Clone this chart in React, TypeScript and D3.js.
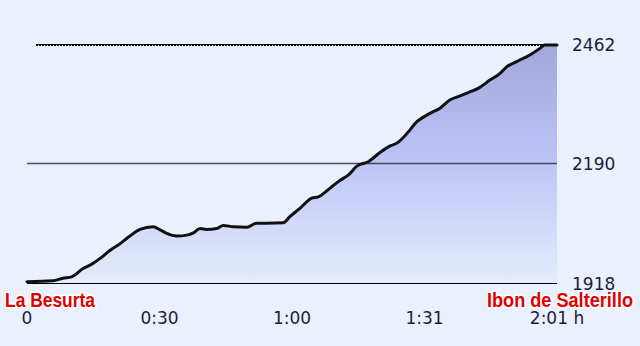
import React from "react";
import * as d3 from "d3";

const timesMin = [0, 5.9, 8.2, 10.2, 12.8, 14.8, 16.7, 18.9, 21.2, 23.5, 25.8, 28.8, 30.4, 31.9, 34.2, 36.5, 38.0, 39.5, 41.0, 43.3, 44.8, 47.1, 50.2, 52.4, 54.7, 58.5, 60.0, 62.3, 65.0, 66.5, 69.2, 71.5, 73.4, 75.3, 77.9, 80.6, 82.9, 84.4, 87.4, 88.6, 92.0, 94.3, 96.6, 98.9, 101.1, 103.0, 105.7, 108.0, 109.5, 111.8, 114.8, 117.1, 118.2, 121];
const elevations = [1921, 1923, 1929, 1932, 1951, 1961, 1974, 1992, 2007, 2025, 2040, 2046, 2039, 2031, 2025, 2027, 2032, 2042, 2040, 2042, 2049, 2046, 2045, 2054, 2054, 2055, 2069, 2088, 2111, 2114, 2134, 2152, 2164, 2184, 2194, 2215, 2230, 2236, 2266, 2281, 2304, 2316, 2335, 2344, 2353, 2361, 2380, 2395, 2410, 2422, 2437, 2452, 2460, 2460];
const yTicks = [1918, 2190, 2462];
const xTickValues = [0, 30.25, 60.5, 90.75, 121];
const xTickLabels = ["0", "0:30", "1:00", "1:31", "2:01 h"];
const startName = "La Besurta";
const endName = "Ibon de Salterillo";

export default function App() {
  const W = 640, H = 346;
  const x = d3.scaleLinear().domain([0, 121]).range([27, 557]);
  const y = d3.scaleLinear().domain([1918, 2462]).range([283, 44]);
  const data = timesMin.map((t, i) => ({ t, e: elevations[i] }));
  const line = d3.line<{ t: number; e: number }>().x(d => x(d.t)).y(d => y(d.e)).curve(d3.curveMonotoneX);
  const area = d3.area<{ t: number; e: number }>().x(d => x(d.t)).y0(y(1918)).y1(d => y(d.e)).curve(d3.curveMonotoneX);
  const font = "'DejaVu Sans', sans-serif";
  const labelFont = "'Liberation Sans Narrow', 'Arial Narrow', sans-serif";
  return (
    <svg width={W} height={H} style={{ position: "absolute", left: 0, top: 0, background: "#eaf1fd" }}>
      <defs>
        <linearGradient id="fg" gradientUnits="userSpaceOnUse" x1={0} y1={y(2462)} x2={0} y2={y(1918)}>
          <stop offset="0" stopColor="#a2a7d8" />
          <stop offset="0.45" stopColor="#b9c1f6" />
          <stop offset="1" stopColor="#e6ecfc" />
        </linearGradient>
      </defs>
      <rect x={0} y={0} width={W} height={H} fill="#eaf1fd" />
      <path d={area(data) || ""} fill="url(#fg)" />
      <line x1={36} x2={x(121)} y1={y(2462) + 0.5} y2={y(2462) + 0.5} stroke="#000" strokeWidth={1} />
      <line x1={36} x2={x(121)} y1={y(2462) + 1.5} y2={y(2462) + 1.5} stroke="#000" strokeWidth={1} strokeDasharray="2,1" />
      <line x1={x(0)} x2={x(121)} y1={y(2190)} y2={y(2190)} stroke="#4a4a58" strokeWidth={1.3} />
      <line x1={x(0)} x2={x(121)} y1={y(1918) + 0.5} y2={y(1918) + 0.5} stroke="#000" strokeWidth={1} />
      <path d={line(data) || ""} fill="none" stroke="#111" strokeWidth={3} strokeLinejoin="round" strokeLinecap="round" />
      {yTicks.map(v => (
        <text key={v} x={572} y={y(v) + 6.5} fontFamily={font} fontSize={17} fill="#1d1d3b">{v}</text>
      ))}
      {xTickValues.map((v, i) => (
        <text key={v} x={x(v)} y={324} textAnchor="middle" fontFamily={font} fontSize={17} fill="#1d1d3b">{xTickLabels[i]}</text>
      ))}
      <text x={5} y={307} fontFamily={labelFont} fontWeight="bold" fontSize={21} fill="#e00000" stroke="#fff" strokeWidth={3} paintOrder="stroke" textLength={90} lengthAdjust="spacingAndGlyphs">{startName}</text>
      <text x={487} y={307} fontFamily={labelFont} fontWeight="bold" fontSize={21} fill="#e00000" stroke="#fff" strokeWidth={3} paintOrder="stroke" textLength={146} lengthAdjust="spacingAndGlyphs">{endName}</text>
    </svg>
  );
}
